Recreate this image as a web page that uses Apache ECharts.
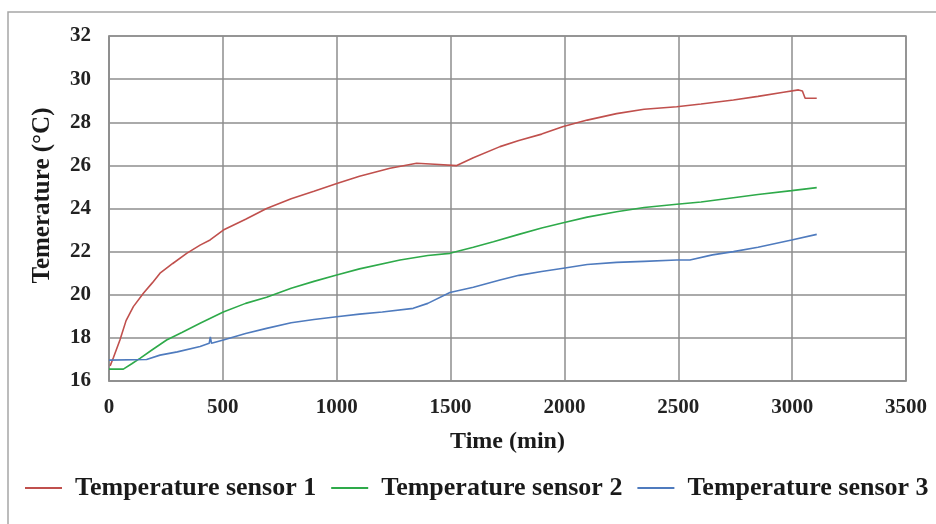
<!DOCTYPE html>
<html>
<head>
<meta charset="utf-8">
<script src="https://cdn.jsdelivr.net/npm/echarts@6/dist/echarts.min.js"></script>
<style>html,body{margin:0;padding:0;background:#fff;}#c{width:936px;height:524px;}</style>
</head>
<body>
<div id="c"></div>
<script>
var xTicks = [0, 500, 1000, 1500, 2000, 2500, 3000, 3500];
var yTicks = [16, 18, 20, 22, 24, 26, 28, 30, 32];
var seriesNames = ['Temperature sensor 1', 'Temperature sensor 2', 'Temperature sensor 3'];

var sensor1 = [[5,16.7],[20,17.1],[48,17.9],[75,18.8],[107,19.45],[151,20.07],[190,20.55],[224,21.0],[280,21.45],[341,21.92],[400,22.3],[444,22.54],[502,23.0],[600,23.5],[692,24.0],[800,24.45],[900,24.8],[1004,25.17],[1100,25.5],[1234,25.87],[1351,26.1],[1430,26.05],[1527,25.99],[1600,26.35],[1717,26.87],[1800,27.15],[1900,27.45],[1995,27.8],[2100,28.1],[2229,28.4],[2350,28.6],[2493,28.72],[2600,28.85],[2742,29.03],[2850,29.2],[2962,29.39],[3028,29.5],[3045,29.45],[3057,29.11],[3108,29.11]];
var sensor2 = [[0,16.55],[63,16.55],[100,16.8],[136,17.05],[190,17.45],[253,17.9],[320,18.25],[400,18.68],[502,19.2],[600,19.6],[692,19.88],[800,20.3],[900,20.62],[1000,20.92],[1100,21.2],[1278,21.61],[1400,21.82],[1497,21.92],[1600,22.2],[1688,22.46],[1800,22.8],[1900,23.1],[1995,23.34],[2100,23.6],[2229,23.85],[2350,24.05],[2493,24.2],[2600,24.3],[2742,24.5],[2850,24.65],[2998,24.83],[3108,24.97]];
var sensor3 = [[0,16.97],[165,17.0],[224,17.2],[300,17.35],[400,17.6],[440,17.75],[445,18.05],[450,17.75],[502,17.9],[600,18.2],[692,18.44],[800,18.7],[900,18.85],[1000,18.98],[1100,19.1],[1200,19.2],[1336,19.37],[1400,19.6],[1497,20.1],[1600,20.35],[1717,20.68],[1800,20.9],[1900,21.08],[1995,21.23],[2100,21.4],[2229,21.5],[2350,21.55],[2493,21.61],[2551,21.61],[2650,21.85],[2742,22.0],[2850,22.2],[2998,22.54],[3108,22.8]];

var colors = ['#C0504D', '#2EAA4A', '#4F7BBE'];
var font = '"Liberation Serif", "Times New Roman", serif';
var gridColor = '#8e8e8e';

var chart = echarts.init(document.getElementById('c'));
chart.setOption({
  animation: false,
  color: colors,
  graphic: [{
    type: 'rect',
    shape: {x: 8, y: 12, width: 940, height: 530},
    style: {fill: 'none', stroke: '#a6a6a6', lineWidth: 1.5},
    silent: true
  }],
  grid: {left: 109, right: 30, top: 36, bottom: 143, show: true, borderColor: gridColor, borderWidth: 1.5, backgroundColor: 'transparent'},
  xAxis: {
    type: 'value', min: xTicks[0], max: xTicks[xTicks.length - 1], interval: 500,
    name: 'Time (min)', nameLocation: 'middle', nameGap: 49,
    nameTextStyle: {fontFamily: font, fontWeight: 'bold', fontSize: 24, color: '#1a1a1a'},
    axisLine: {lineStyle: {color: gridColor, width: 1.5}},
    axisTick: {show: false},
    splitLine: {show: true, lineStyle: {color: gridColor, width: 1.5}},
    axisLabel: {fontFamily: font, fontWeight: 'bold', fontSize: 21, color: '#222', margin: 16,
      formatter: function (v) { return String(v); }}
  },
  yAxis: {
    type: 'value', min: yTicks[0], max: yTicks[yTicks.length - 1], interval: 2,
    name: 'Temerature (\u00B0C)', nameLocation: 'middle', nameGap: 54, nameRotate: 90,
    nameTextStyle: {fontFamily: font, fontWeight: 'bold', fontSize: 25, color: '#1a1a1a', padding: [0, 0, 0, 26]},
    axisLine: {show: true, lineStyle: {color: gridColor, width: 1.5}},
    axisTick: {show: false},
    splitLine: {show: true, lineStyle: {color: gridColor, width: 1.5}},
    axisLabel: {fontFamily: font, fontWeight: 'bold', fontSize: 21, color: '#222', margin: 18}
  },
  legend: {
    left: 25, top: 475, width: 911, padding: 0, itemWidth: 37, itemHeight: 2, itemGap: 15, icon: 'rect',
    data: seriesNames,
    textStyle: {fontFamily: font, fontWeight: 'bold', fontSize: 26, color: '#1a1a1a', padding: [0, 0, 0, 8]}
  },
  series: [
    {name: seriesNames[0], type: 'line', data: sensor1, showSymbol: false, lineStyle: {width: 1.6}},
    {name: seriesNames[1], type: 'line', data: sensor2, showSymbol: false, lineStyle: {width: 1.6}},
    {name: seriesNames[2], type: 'line', data: sensor3, showSymbol: false, lineStyle: {width: 1.6}}
  ]
});
</script>
</body>
</html>
